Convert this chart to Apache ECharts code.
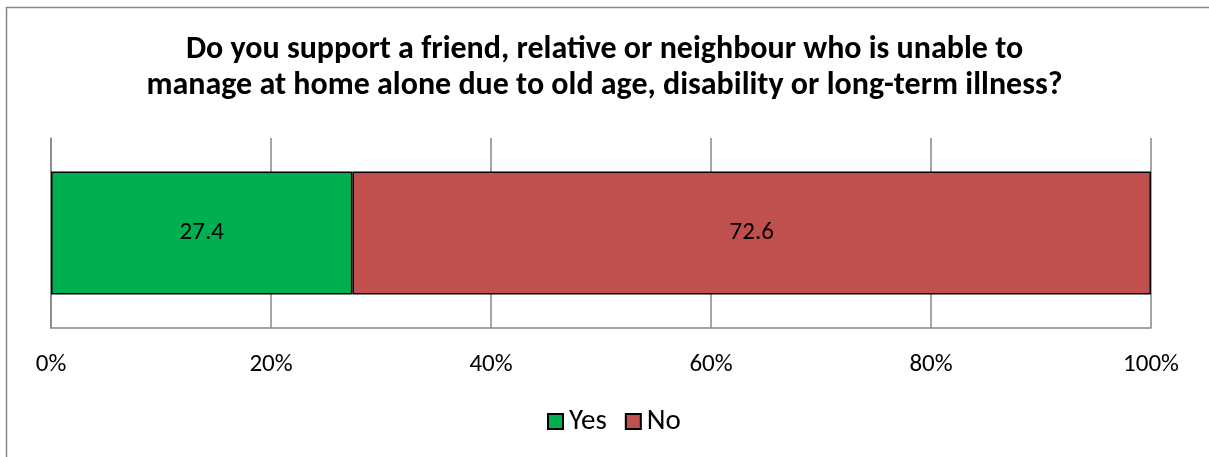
<!DOCTYPE html>
<html><head><meta charset="utf-8">
<script src="https://cdn.jsdelivr.net/npm/echarts@6/dist/echarts.min.js"></script>
<style>html,body{margin:0;padding:0;background:#fff}#c{width:1209px;height:457px}</style>
</head><body><div id="c"></div>
<script>
const categories = ['Q'];
const yesValues = [27.4];
const noValues = [72.6];
const seriesNames = ['Yes', 'No'];
const titleLines = ['Do you support a friend, relative or neighbour who is unable to', 'manage at home alone due to old age, disability or long-term illness?'];

const font = 'Carlito, "Liberation Sans", "Noto Sans", sans-serif';
const chart = echarts.init(document.getElementById('c'));
chart.setOption({
  animation: false,
  title: {
    text: titleLines.join('\n'), left: 'center', top: 27,
    textStyle: { fontFamily: font, fontSize: 32, fontWeight: 'bold', color: '#000', lineHeight: 36 }
  },
  graphic: [{ type: 'rect', shape: { x: 6.5, y: 7.5, width: 1220, height: 470 }, style: { fill: null, stroke: '#868686', lineWidth: 1.5 }, silent: true }],
  legend: {
    data: seriesNames, top: 402, left: 542, itemWidth: 15, itemHeight: 15, itemGap: 18,
    icon: 'rect',
    textStyle: { fontFamily: font, fontSize: 29, color: '#000', padding: [0, 0, 0, 1] }
  },
  grid: { left: 51, right: 58, top: 138, bottom: 129, containLabel: false },
  xAxis: {
    type: 'value', min: 0, max: 100, interval: 20,
    axisLabel: { formatter: '{value}%', fontFamily: font, fontSize: 25, color: '#000', margin: 24 },
    splitLine: { show: true, lineStyle: { color: '#868686', width: 1.5 } },
    axisLine: { show: true, lineStyle: { color: '#868686', width: 1.5 } },
    axisTick: { show: false }
  },
  yAxis: {
    type: 'category', data: categories,
    axisLine: { show: true, lineStyle: { color: '#868686', width: 1.5 } },
    axisTick: { show: false }, axisLabel: { show: false }
  },
  series: [
    { name: seriesNames[0], type: 'bar', stack: 's', data: yesValues, barWidth: 123,
      itemStyle: { color: '#00B050', borderColor: '#000', borderWidth: 1.5 },
      label: { show: true, position: 'inside', fontFamily: font, fontSize: 25, color: '#000', formatter: p => p.value.toFixed(1) } },
    { name: seriesNames[1], type: 'bar', stack: 's', data: noValues, barWidth: 123,
      itemStyle: { color: '#C0504D', borderColor: '#000', borderWidth: 1.5 },
      label: { show: true, position: 'inside', fontFamily: font, fontSize: 25, color: '#000', formatter: p => p.value.toFixed(1) } }
  ]
});
</script></body></html>
